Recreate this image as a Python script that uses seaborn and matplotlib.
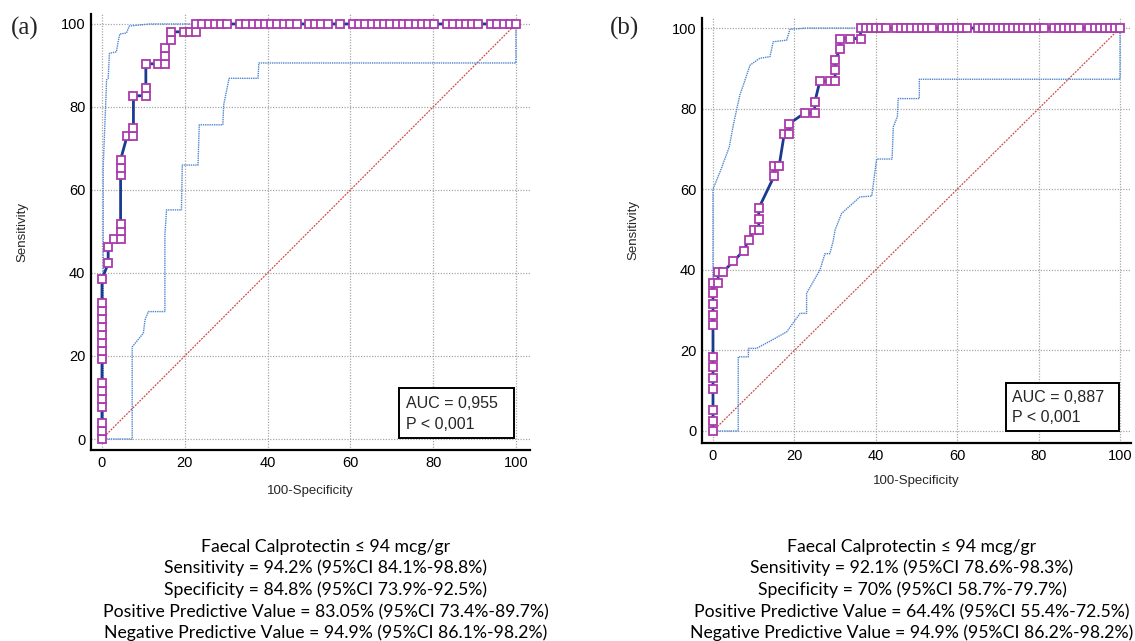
import matplotlib
matplotlib.use("Agg")
import matplotlib.pyplot as plt
import seaborn as sns
import pandas as pd
from matplotlib.ticker import MultipleLocator
from matplotlib.patches import Rectangle

# ---------------- Panel (a) data ----------------
a_fpr = [0, 0, 0, 0, 0, 0, 0, 0, 0, 0, 0, 0, 0, 0, 0, 0,
         1.5, 1.5, 3.0, 4.5, 4.5, 4.5, 4.5, 4.5, 4.5, 6.1, 7.6, 7.6, 7.6,
         10.6, 10.6, 10.6, 13.6, 15.2, 15.2, 15.2, 16.7, 16.7, 19.7, 21.2, 22.7,
         22.7, 24.2, 25.8, 27.3, 28.8, 30.3, 33.3, 34.8, 36.4, 37.9, 39.4, 40.9,
         42.4, 43.9, 45.5, 47.0, 50.0, 51.5, 53.0, 54.5, 57.6, 60.6, 62.1, 63.6,
         65.2, 66.7, 68.2, 69.7, 71.2, 72.7, 74.2, 75.8, 77.3, 78.8, 80.3, 83.3,
         84.8, 86.4, 87.9, 89.4, 90.9, 93.9, 95.5, 97.0, 98.5, 100.0]
a_tpr = [0, 1.9, 3.8, 7.7, 9.6, 11.5, 13.5, 19.2, 21.2, 23.1, 25.0, 26.9, 28.8, 30.8, 32.7, 38.5,
         42.3, 46.2, 48.1, 48.1, 50.0, 51.9, 63.5, 65.4, 67.3, 73.1, 73.1, 75.0, 82.7,
         82.7, 84.6, 90.4, 90.4, 90.4, 92.3, 94.2, 96.2, 98.1, 98.1, 98.1, 98.1,
         100, 100, 100, 100, 100, 100, 100, 100, 100, 100, 100, 100,
         100, 100, 100, 100, 100, 100, 100, 100, 100, 100, 100, 100,
         100, 100, 100, 100, 100, 100, 100, 100, 100, 100, 100, 100,
         100, 100, 100, 100, 100, 100, 100, 100, 100, 100]
a_upper_x = [0, 0.3, 0.3, 1.0, 1.1, 1.5, 1.8, 3.5, 3.9, 4.3, 5.9, 6.6, 11.6, 100]
a_upper_y = [0, 0, 65.6, 83.3, 86.5, 86.9, 92.9, 93.3, 95.7, 97.6, 97.8, 99.5, 100, 100]
a_lower_x = [0, 7.3, 7.3, 10.0, 10.4, 11.2, 15.2, 15.2, 15.6, 19.2, 19.4, 23.2, 23.5,
             29.2, 29.4, 30.7, 37.7, 37.9, 100, 100]
a_lower_y = [0, 0, 22.2, 25.5, 28.7, 30.7, 30.7, 49.2, 55.2, 55.2, 66.0, 66.0, 75.7,
             75.7, 80.5, 86.9, 86.9, 90.6, 90.6, 100]
a_auc_text = ["AUC = 0,955", "P < 0,001"]
a_summary = ["Faecal Calprotectin \u2264 94 mcg/gr",
             "Sensitivity = 94.2% (95%CI 84.1%-98.8%)",
             "Specificity = 84.8% (95%CI 73.9%-92.5%)",
             "Positive Predictive Value = 83.05% (95%CI 73.4%-89.7%)",
             "Negative Predictive Value = 94.9% (95%CI 86.1%-98.2%)"]

# ---------------- Panel (b) data ----------------
b_fpr = [0, 0, 0, 0, 0, 0, 0, 0, 0, 0, 0, 0,
         1.25, 1.25, 2.5, 5.0, 7.5, 8.75, 10.0, 11.25, 11.25, 11.25,
         15.0, 15.0, 16.25, 17.5, 18.75, 18.75, 22.5, 25.0, 25.0,
         26.25, 28.75, 30.0, 30.0, 30.0, 31.25, 31.25, 33.75, 36.25,
         36.25, 37.5, 38.75, 40.0, 41.25, 42.5, 45.0, 46.25, 47.5, 48.75, 50.0,
         51.25, 52.5, 53.75, 56.25, 57.5, 58.75, 60.0, 61.25, 62.5, 65.0, 66.25,
         67.5, 68.75, 70.0, 71.25, 72.5, 73.75, 75.0, 76.25, 77.5, 78.75, 80.0,
         81.25, 83.75, 85.0, 86.25, 87.5, 88.75, 90.0, 92.5, 93.75, 95.0, 96.25,
         97.5, 98.75, 100.0]
b_tpr = [0, 2.6, 5.3, 10.5, 13.2, 15.8, 18.4, 26.3, 28.9, 31.6, 34.2, 36.8,
         36.8, 39.5, 39.5, 42.1, 44.7, 47.4, 50.0, 50.0, 52.6, 55.3,
         63.2, 65.8, 65.8, 73.7, 73.7, 76.3, 78.9, 78.9, 81.6,
         86.8, 86.8, 86.8, 89.5, 92.1, 94.7, 97.4, 97.4, 97.4,
         100, 100, 100, 100, 100, 100, 100, 100, 100, 100, 100,
         100, 100, 100, 100, 100, 100, 100, 100, 100, 100, 100,
         100, 100, 100, 100, 100, 100, 100, 100, 100, 100, 100,
         100, 100, 100, 100, 100, 100, 100, 100, 100, 100, 100,
         100, 100, 100]
b_upper_x = [0, 0, 2.0, 4.0, 5.0, 6.6, 7.5, 9.1, 11.5, 14.0, 14.8, 18.1, 18.9, 23.0, 100]
b_upper_y = [0, 60.0, 65.0, 70.5, 76.0, 83.4, 86.0, 90.8, 92.5, 92.9, 96.6, 97.0, 99.7, 100, 100]
b_lower_x = [0, 6.2, 6.2, 8.7, 8.7, 10.7, 14.0, 18.1, 21.4, 23.0, 23.0, 26.3, 27.5,
             28.7, 29.5, 30.0, 31.6, 36.1, 39.0, 40.2, 44.0, 44.3, 45.3, 45.5,
             50.7, 50.7, 100, 100]
b_lower_y = [0, 0, 18.4, 18.4, 20.5, 20.5, 22.3, 24.6, 29.2, 29.2, 34.2, 40.0, 44.0,
             44.0, 47.0, 49.9, 54.0, 58.1, 58.3, 67.5, 67.5, 75.5, 78.0, 82.5,
             82.5, 87.3, 87.3, 100]
b_auc_text = ["AUC = 0,887", "P < 0,001"]
b_summary = ["Faecal Calprotectin \u2264 94 mcg/gr",
             "Sensitivity = 92.1% (95%CI 78.6%-98.3%)",
             "Specificity = 70% (95%CI 58.7%-79.7%)",
             "Positive Predictive Value = 64.4% (95%CI 55.4%-72.5%)",
             "Negative Predictive Value = 94.9% (95%CI 86.2%-98.2%)"]

diag = [0, 100]
panel_labels = ["(a)", "(b)"]

sns.set_style("white")
plt.rcParams['font.family'] = ['Liberation Sans', 'DejaVu Sans']

W, H = 1135, 641
fig = plt.figure(figsize=(W / 100, H / 100), dpi=100)

ROC_LINE = "#1b3b8f"
MARKER = "#a93aab"
CI_COL = "#4f86cf"
DIAG_COL = "#cc4a4a"


def panel(rect_px, xlim, ylim, fpr, tpr, ux, uy, lx, ly, auc_text, box, auc_y,
          ylabel_x, xlabel_y):
    l, t, r, b = rect_px
    ax = fig.add_axes([l / W, 1 - b / H, (r - l) / W, (b - t) / H])
    ax.set_xlim(*xlim)
    ax.set_ylim(*ylim)
    ax.xaxis.set_major_locator(MultipleLocator(20))
    ax.yaxis.set_major_locator(MultipleLocator(20))
    ax.xaxis.set_minor_locator(MultipleLocator(5))
    ax.yaxis.set_minor_locator(MultipleLocator(5))
    ax.grid(True, which="major", color="#a8a8a8", linestyle=(0, (1, 1.2)), linewidth=0.9)
    ax.set_axisbelow(True)
    for s in ["top", "right"]:
        ax.spines[s].set_visible(False)
    for s in ["left", "bottom"]:
        ax.spines[s].set_linewidth(1.6)
        ax.spines[s].set_color("black")
    ax.tick_params(which="major", direction="in", length=7.5, width=1.6, pad=4,
                   labelsize=10.5, colors="black")
    ax.tick_params(which="minor", direction="in", length=3.5, width=0.9, colors="black")

    sns.lineplot(x=diag, y=diag, ax=ax, sort=False, estimator=None,
                 color=DIAG_COL, linewidth=0.9, linestyle=(0, (1.5, 1)), zorder=2)
    sns.lineplot(x=ux, y=uy, ax=ax, sort=False, estimator=None,
                 color=CI_COL, linewidth=1.0, linestyle=(0, (1, 0.6)), zorder=3)
    sns.lineplot(x=lx, y=ly, ax=ax, sort=False, estimator=None,
                 color=CI_COL, linewidth=1.0, linestyle=(0, (1, 0.6)), zorder=3)
    sns.lineplot(x=fpr, y=tpr, ax=ax, sort=False, estimator=None,
                 color=ROC_LINE, linewidth=2.0, marker="s", markersize=5.6,
                 markerfacecolor="white", markeredgecolor=MARKER,
                 markeredgewidth=1.3, zorder=4, clip_on=False)

    bx0, by0, bx1, by1 = box
    ax.add_patch(Rectangle((bx0, by0), bx1 - bx0, by1 - by0, facecolor="white",
                           edgecolor="black", linewidth=1.4, zorder=6))
    ax.text(bx0 + 1.6, auc_y[0], auc_text[0], fontsize=11.5, va="center", ha="left", zorder=7)
    ax.text(bx0 + 1.6, auc_y[1], auc_text[1], fontsize=11.5, va="center", ha="left", zorder=7)

    ax.set_xlabel("100-Specificity", fontsize=9.5)
    ax.set_ylabel("Sensitivity", fontsize=9.5)
    ax.xaxis.set_label_coords(0.5, xlabel_y)
    ax.yaxis.set_label_coords(ylabel_x, 0.5)
    ax.xaxis.label.set_va("center")
    ax.yaxis.label.set_va("center")
    return ax


ax_a = panel((91, 14, 530, 450), (-2.65, 103.4), (-2.65, 102.4),
             a_fpr, a_tpr, a_upper_x, a_upper_y, a_lower_x, a_lower_y,
             a_auc_text, (71.8, 0.2, 99.6, 12.3), (8.6, 3.6),
             (22 - 91) / 439, (450 - 491) / 436)
ax_b = panel((702, 18, 1131, 443), (-2.7, 102.7), (-2.98, 102.5),
             b_fpr, b_tpr, b_upper_x, b_upper_y, b_lower_x, b_lower_y,
             b_auc_text, (71.9, 0.1, 99.8, 11.8), (8.4, 3.3),
             (633 - 702) / 429, (443 - 481) / 425)

fig.text(25 / W, 1 - 28 / H, panel_labels[0], family="Liberation Serif", fontsize=18,
         ha="center", va="center")
fig.text(625 / W, 1 - 28 / H, panel_labels[1], family="Liberation Serif", fontsize=18,
         ha="center", va="center")

line_y = [547, 568, 590, 612, 633]
for cx, lines in ((326, a_summary), (912, b_summary)):
    for yy, s in zip(line_y, lines):
        fig.text(cx / W, 1 - yy / H, s, family=["Lato", "DejaVu Sans"], fontsize=12.7,
                 ha="center", va="center", color="black")

fig.savefig("out.png", dpi=100)
